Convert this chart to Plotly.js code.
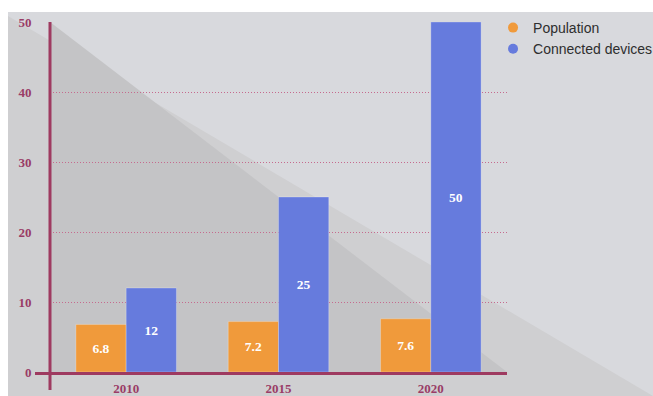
<!DOCTYPE html>
<html>
<head>
<meta charset="utf-8">
<script src="https://cdn.plot.ly/plotly-3.0.1.min.js"></script>
<style>
  html, body { margin: 0; padding: 0; background: #ffffff; }
  #chart { position: absolute; left: 8px; top: 12px; width: 645px; height: 384px; }
</style>
</head>
<body>
<div id="chart"></div>
<script>
const years = ['2010', '2015', '2020'];
const population = [6.8, 7.2, 7.6];
const devices = [12, 25, 50];
const seriesNames = ['Population', 'Connected devices'];
const yTicks = [0, 10, 20, 30, 40, 50];

const orange = '#f09a3b';
const blue = '#667bdd';
const maroon = '#9e3a60';
const serifBold = {family: '"Liberation Serif", "Times New Roman", serif', size: 13, color: '#9a3c66', weight: 'bold'};

const barText = {family: '"Liberation Serif", "Times New Roman", serif', size: 13.5, color: '#ffffff', weight: 'bold'};

const traces = [
  {type: 'bar', x: years, y: population, name: seriesNames[0],
   marker: {color: orange, line: {color: 'rgba(255,255,255,0.25)', width: 1}},
   texttemplate: '%{y}', textposition: 'inside', insidetextanchor: 'middle', textfont: barText,
   showlegend: false, hoverinfo: 'x+y'},
  {type: 'bar', x: years, y: devices, name: seriesNames[1],
   marker: {color: blue, line: {color: 'rgba(255,255,255,0.25)', width: 1}},
   texttemplate: '%{y}', textposition: 'inside', insidetextanchor: 'middle', textfont: barText,
   showlegend: false, hoverinfo: 'x+y'},
  {type: 'scatter', mode: 'markers', x: [null], y: [null], name: seriesNames[0],
   marker: {color: orange, size: 10, symbol: 'circle'}, showlegend: true},
  {type: 'scatter', mode: 'markers', x: [null], y: [null], name: seriesNames[1],
   marker: {color: blue, size: 10, symbol: 'circle'}, showlegend: true}
];

// background triangles (plot-area paper fractions)
const x0 = (8 - 50) / 457, x1 = (653 - 50) / 457;
const yTop = (372 - 16) / 350, yBot = (372 - 396) / 350;

const layout = {
  width: 645, height: 384,
  margin: {l: 42, r: 146, t: 10, b: 24, autoexpand: false},
  paper_bgcolor: '#d8d9dd',
  plot_bgcolor: 'rgba(0,0,0,0)',
  barmode: 'group',
  bargap: 0.34,
  bargroupgap: 0,
  showlegend: true,
  legend: {xref: 'container', yref: 'container', x: 0.752, xanchor: 'left', y: 1.004, yanchor: 'top',
           font: {family: '"Liberation Sans", Arial, sans-serif', size: 14, color: '#2e2e2e'},
           bgcolor: 'rgba(0,0,0,0)', traceorder: 'normal', itemwidth: 30},
  xaxis: {type: 'category', showline: false, showgrid: false, zeroline: false,
          ticks: 'outside', ticklen: 4, tickcolor: 'rgba(0,0,0,0)', tickfont: serifBold,
          fixedrange: true, automargin: false},
  yaxis: {range: [0, 50], tickvals: yTicks, ticktext: yTicks.map(String),
          showline: false, zeroline: false, showgrid: true,
          gridcolor: '#c66b8e', griddash: '1px,2px', gridwidth: 1,
          ticks: 'outside', ticklen: 15, tickcolor: 'rgba(0,0,0,0)', tickfont: serifBold,
          fixedrange: true, automargin: false},
  shapes: [
    {type: 'path', xref: 'paper', yref: 'paper', layer: 'below',
     path: `M ${x0} ${yTop} L ${x0} ${yBot} L ${x1} ${yBot} Z`,
     fillcolor: '#cfcfd1', line: {width: 0}},
    {type: 'path', xref: 'paper', yref: 'paper', layer: 'below',
     path: 'M 0 1 L 0 0 L 1 0 Z',
     fillcolor: '#c4c4c6', line: {width: 0}},
    {type: 'line', xref: 'paper', yref: 'paper', layer: 'above',
     x0: (35 - 50) / 457, x1: 1, y0: -0.004, y1: -0.004,
     line: {color: maroon, width: 3}},
    {type: 'line', xref: 'paper', yref: 'paper', layer: 'above',
     x0: 0, x1: 0, y0: (372 - 390) / 350, y1: 1,
     line: {color: maroon, width: 3}}
  ]
};

Plotly.newPlot('chart', traces, layout, {displayModeBar: false, staticPlot: true});
</script>
</body>
</html>
